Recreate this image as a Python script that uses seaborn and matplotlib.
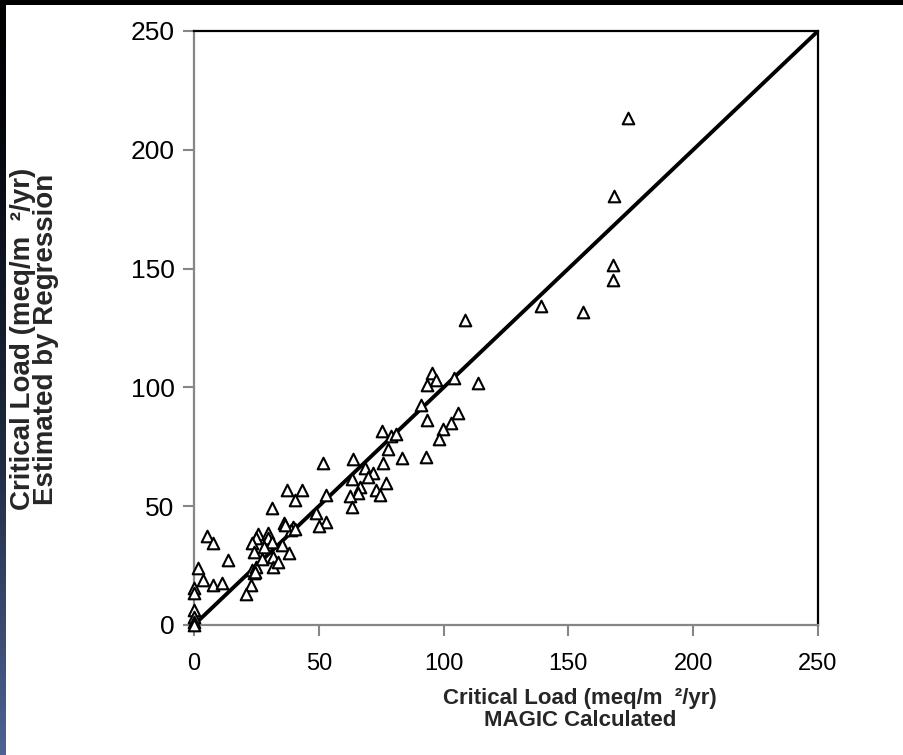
import numpy as np
import pandas as pd
import matplotlib
matplotlib.use("Agg")
import matplotlib.pyplot as plt
from matplotlib.colors import LinearSegmentedColormap
import seaborn as sns

# MAGIC calculated critical load (x) vs regression-estimated (y)
magic_calc = [173.9, 168.3, 167.9, 167.9, 155.8, 139.1, 108.6, 104.2, 113.6, 95.5,
              96.8, 93.5, 91.1, 105.9, 93.2, 102.8, 99.8, 98.2, 93.1, 83.2,
              75.2, 78.8, 80.8, 77.8, 75.8, 63.8, 68.5, 71.8, 69.8, 63.4,
              76.8, 66.5, 73.0, 65.7, 62.4, 74.4, 63.4, 52.8, 51.7, 37.3,
              43.4, 40.5, 31.4, 49.0, 36.1, 52.8, 50.1, 39.8, 38.7, 25.6,
              29.8, 24.7, 29.8, 23.4, 31.4, 35.4, 5.3, 7.7, 13.7, 1.6,
              3.7, 7.7, 11.3, 0.0, 0.0, 22.7, 20.7, 0.0, 0.0, 0.0,
              0.0, 23.4, 24.0, 24.7, 24.0, 28.0, 27.4, 31.8, 31.8, 33.7,
              38.1, 24.5, 36.3, 40.3]
regression_est = [213.4, 180.5, 151.5, 145.1, 131.8, 134.2, 128.3, 103.9, 101.7, 106.1,
                  103.3, 101.0, 92.6, 89.1, 86.2, 85.1, 82.3, 78.1, 70.7, 70.2,
                  81.6, 79.5, 80.3, 73.9, 68.2, 69.7, 66.0, 64.0, 62.1, 61.4,
                  59.6, 58.2, 56.8, 55.4, 54.3, 54.7, 49.8, 54.7, 68.0, 56.8,
                  56.8, 52.6, 49.4, 47.0, 43.0, 43.4, 41.6, 41.3, 39.9, 38.5,
                  38.8, 36.5, 36.5, 34.4, 35.0, 33.7, 37.4, 34.6, 27.3, 23.8,
                  18.9, 16.8, 17.5, 15.4, 13.6, 16.8, 13.0, 6.2, 3.4, 1.3,
                  0.0, 23.1, 21.7, 24.5, 30.9, 32.9, 27.6, 28.8, 24.5, 26.6,
                  30.2, 22.3, 42.0, 40.4]

line_x = [0, 250]
line_y = [0, 250]
ticks = [0, 50, 100, 150, 200, 250]

df = pd.DataFrame({"calc": magic_calc, "est": regression_est})

sns.set_theme(style="white")
plt.rcParams["font.family"] = ["Liberation Sans", "DejaVu Sans"]

fig = plt.figure(figsize=(9.04, 7.55), dpi=100)
fig.patch.set_facecolor("white")

# decorative slide edges
W, H = 904, 755
edge_ax = fig.add_axes([0, 0, 6 / W, 1])
grad = np.linspace(0, 1, 256).reshape(-1, 1)
cmap = LinearSegmentedColormap.from_list("edge", [(0, "#000000"), (0.15, "#03050a"),
                                                    (0.6, "#1f2a40"), (1, "#4e6394")])
edge_ax.imshow(grad, aspect="auto", cmap=cmap, origin="upper")
edge_ax.axis("off")
top_ax = fig.add_axes([0, 1 - 5 / H, 1, 5 / H])
top_ax.set_facecolor("black")
top_ax.set_xticks([]); top_ax.set_yticks([])
for s in top_ax.spines.values():
    s.set_visible(False)

ax = fig.add_axes([194 / W, 1 - 625 / H, 624 / W, 594 / H])
ax.set_facecolor("white")

sns.lineplot(x=line_x, y=line_y, ax=ax, color="black", linewidth=2.8, zorder=2)
sns.scatterplot(data=df, x="calc", y="est", ax=ax, marker="^", s=70,
                facecolor="white", edgecolor="black", linewidth=1.5,
                zorder=3, clip_on=False)

ax.set_xlim(0, 250)
ax.set_ylim(0, 250)
ax.set_xticks(ticks)
ax.set_yticks(ticks)
ax.set_xticklabels([str(t) for t in ticks], fontsize=17)
ax.set_yticklabels([str(t) for t in ticks], fontsize=19)

for side in ["left", "bottom"]:
    ax.spines[side].set_color("#868686")
    ax.spines[side].set_linewidth(1.6)
for side in ["top", "right"]:
    ax.spines[side].set_color("black")
    ax.spines[side].set_linewidth(1.6)
    ax.spines[side].set_visible(True)

ax.tick_params(axis="both", direction="out", length=8, width=1.5, color="#868686",
               labelcolor="black")
ax.tick_params(axis="x", pad=12, bottom=True)
ax.tick_params(axis="y", pad=6, left=True)

ax.set_xlabel("Critical Load (meq/m  \u00b2/yr)\nMAGIC Calculated",
              fontsize=16, fontweight="bold", linespacing=1.05)
ax.set_ylabel("Critical Load (meq/m  \u00b2/yr)\nEstimated by Regression",
              fontsize=20, fontweight="bold", linespacing=0.85)
ax.xaxis.set_label_coords(0.619, -0.106)
ax.yaxis.set_label_coords(-0.217, 0.481)

fig.savefig("out.png", dpi=100, facecolor=fig.get_facecolor())
